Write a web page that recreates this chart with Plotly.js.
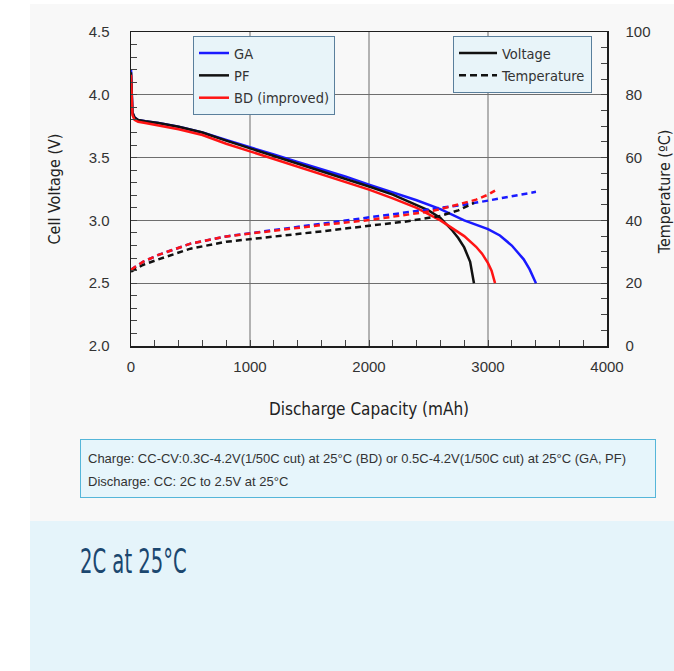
<!DOCTYPE html>
<html>
<head>
<meta charset="utf-8">
<script src="https://cdn.plot.ly/plotly-3.0.1.min.js"></script>
<style>
  html, body { margin:0; padding:0; background:#ffffff; }
  body { width:674px; height:671px; overflow:hidden; position:relative; }
  #gray { position:absolute; left:30px; top:4px; width:644px; height:517px; background:#f8f8f8; }
  #chart { position:absolute; left:0; top:0; width:674px; height:522px; }
  #note { position:absolute; left:80px; top:439px; width:567px; height:50px; box-sizing:content-box;
          border:1px solid #55b6d9; background:#e6f5fb; padding:7px 0 0 7px;
          font-family:'Liberation Sans', Arial, sans-serif; font-size:13px; color:#333; line-height:23px; }
  #note div { white-space:nowrap; }
  #panel { position:absolute; left:30px; top:521px; width:644px; height:150px; background:#e5f4fa; }
  #panelTitle { position:absolute; left:80px; top:545px; margin:0;
          font-family:'DejaVu Sans Condensed', sans-serif;
          font-size:33px; line-height:33px; color:#1b476f; font-weight:normal;
          transform:scaleX(0.66); transform-origin:left top; white-space:nowrap; }
</style>
</head>
<body>
<div id="gray"></div>
<div id="chart"></div>
<div id="note">
  <div id="noteLine1"></div>
  <div id="noteLine2"></div>
</div>
<div id="panel"></div>
<h2 id="panelTitle"></h2>
<script>
// ---------- data ----------
const seriesNames = ['GA', 'PF', 'BD (improved)'];

// Voltage vs. discharge capacity
const capGA = [0, 5, 12, 30, 60, 120, 230, 400, 600, 800, 1000, 1200, 1400, 1600, 1800, 2000, 2200, 2400, 2600, 2800, 3000, 3100, 3200, 3300, 3350, 3403];
const voltGA = [4.20, 4.00, 3.86, 3.82, 3.80, 3.79, 3.775, 3.745, 3.70, 3.64, 3.585, 3.525, 3.465, 3.41, 3.35, 3.285, 3.225, 3.16, 3.09, 3.00, 2.93, 2.88, 2.80, 2.69, 2.61, 2.50];

const capPF = [0, 5, 12, 30, 60, 120, 230, 400, 600, 800, 1000, 1200, 1400, 1600, 1800, 2000, 2200, 2400, 2500, 2600, 2700, 2750, 2800, 2850, 2882];
const voltPF = [4.18, 3.98, 3.86, 3.82, 3.80, 3.79, 3.775, 3.745, 3.70, 3.635, 3.575, 3.515, 3.455, 3.395, 3.335, 3.27, 3.205, 3.125, 3.08, 3.02, 2.92, 2.86, 2.785, 2.67, 2.50];

const capBD = [0, 5, 12, 30, 60, 120, 230, 400, 600, 800, 1000, 1200, 1400, 1600, 1800, 2000, 2200, 2400, 2600, 2700, 2800, 2900, 2950, 3000, 3030, 3059];
const voltBD = [4.16, 3.96, 3.84, 3.80, 3.785, 3.775, 3.756, 3.725, 3.68, 3.61, 3.55, 3.49, 3.43, 3.37, 3.31, 3.245, 3.175, 3.10, 3.00, 2.94, 2.875, 2.79, 2.735, 2.66, 2.60, 2.50];

// Temperature vs. discharge capacity
const tCapGA = [0, 100, 230, 500, 800, 1000, 1300, 1600, 2000, 2300, 2600, 2800, 3000, 3200, 3403];
const tempGA = [24.3, 26.8, 29.0, 32.6, 34.9, 35.9, 37.5, 38.8, 40.8, 42.3, 43.8, 45.0, 46.3, 47.6, 49.1];

const tCapPF = [0, 100, 230, 500, 800, 1000, 1300, 1600, 2000, 2300, 2600, 2750, 2882];
const tempPF = [23.7, 25.8, 27.6, 31.0, 33.2, 34.0, 35.4, 36.5, 38.3, 39.6, 41.4, 43.2, 45.6];

const tCapBD = [0, 100, 230, 500, 800, 1000, 1300, 1600, 2000, 2300, 2500, 2600, 2800, 2900, 3000, 3059];
const tempBD = [24.3, 26.8, 29.0, 32.6, 34.9, 35.8, 37.3, 38.5, 40.1, 41.6, 42.8, 43.6, 45.6, 46.6, 48.2, 49.5];

// Tick labels
const xTickVals = [0, 1000, 2000, 3000, 4000];
const yTickVals = [2.0, 2.5, 3.0, 3.5, 4.0, 4.5];
const y2TickVals = [0, 20, 40, 60, 80, 100];

// Texts
const noteLines = [
  'Charge: CC-CV:0.3C-4.2V(1/50C cut) at 25°C (BD) or 0.5C-4.2V(1/50C cut) at 25°C (GA, PF)',
  'Discharge: CC: 2C to 2.5V at 25°C'
];
const panelTitle = '2C at 25°C';
const y2TitleText = 'Temperature (ºC)';

// ---------- styles ----------
const COLORS = ['#1a1aff', '#111111', '#ff1414'];
const NARROW = "'DejaVu Sans Condensed', sans-serif";
const SANS = "'Liberation Sans', Arial, sans-serif";
const TEMP_DASH = '6px,4px';

const voltCaps = [capGA, capPF, capBD];
const volts = [voltGA, voltPF, voltBD];
const tempCaps = [tCapGA, tCapPF, tCapBD];
const temps = [tempGA, tempPF, tempBD];

const traces = [];
for (let i = 0; i < 3; i++) {
  traces.push({
    type: 'scatter', mode: 'lines', name: seriesNames[i], legendgroup: 'v' + i,
    x: voltCaps[i], y: volts[i], yaxis: 'y', legend: 'legend',
    line: { color: COLORS[i], width: 2.5 }, hoverinfo: 'skip'
  });
}
for (let i = 0; i < 3; i++) {
  traces.push({
    type: 'scatter', mode: 'lines', name: seriesNames[i] + ' temperature', legendgroup: 't' + i,
    x: tempCaps[i], y: temps[i], yaxis: 'y2', showlegend: false,
    line: { color: COLORS[i], width: 2.5, dash: TEMP_DASH }, hoverinfo: 'skip'
  });
}
// legend-only entries for the line-style key
traces.push({ type: 'scatter', mode: 'lines', name: 'Voltage', x: [null], y: [null], legendgroup: 'k0',
  legend: 'legend2', showlegend: true, line: { color: '#111111', width: 2.5 } });
traces.push({ type: 'scatter', mode: 'lines', name: 'Temperature', x: [null], y: [null], legendgroup: 'k1',
  legend: 'legend2', showlegend: true, line: { color: '#111111', width: 2.5, dash: '7px,4px' } });

const legendCommon = {
  bgcolor: '#e8f4f9', bordercolor: '#5a7f9c', borderwidth: 1,
  font: { family: NARROW, size: 14.5, color: '#333333' },
  xanchor: 'left', yanchor: 'top', traceorder: 'grouped', tracegroupgap: 0.5
};

const layout = {
  width: 674, height: 522,
  margin: { l: 131, r: 67, t: 32, b: 176, pad: 0 },
  paper_bgcolor: 'rgba(0,0,0,0)',
  plot_bgcolor: 'rgba(0,0,0,0)',
  showlegend: true,
  xaxis: {
    range: [0, 4000], tickvals: xTickVals, ticktext: xTickVals.map(String),
    showgrid: true, gridcolor: '#b2b2b2', gridwidth: 1.3,
    zeroline: false, showline: true, linecolor: '#1e1e1e', linewidth: 1.5, mirror: true,
    ticks: 'inside', ticklen: 6, tickcolor: '#444', ticklabelstandoff: 6,
    minor: { dtick: 200, ticks: 'inside', ticklen: 6, tickcolor: '#444', showgrid: false },
    tickfont: { family: SANS, size: 15, color: '#333' },
    title: { text: 'Discharge Capacity (mAh)', standoff: 29,
             font: { family: NARROW, size: 17, color: '#222' } }
  },
  yaxis: {
    range: [2, 4.5], tickvals: yTickVals, ticktext: yTickVals.map(v => v.toFixed(1)),
    showgrid: true, gridcolor: '#6e6e6e', gridwidth: 1.3,
    zeroline: false, showline: true, linecolor: '#1e1e1e', linewidth: 1.5, mirror: true,
    ticks: 'inside', ticklen: 6, tickcolor: '#444', ticklabelstandoff: 17,
    minor: { dtick: 0.1, ticks: 'inside', ticklen: 6, tickcolor: '#444', showgrid: false },
    tickfont: { family: SANS, size: 15, color: '#333' },
    title: { text: 'Cell Voltage (V)', standoff: 24,
             font: { family: NARROW, size: 16, color: '#222' } }
  },
  yaxis2: {
    overlaying: 'y', side: 'right', anchor: 'x',
    range: [0, 100], tickvals: y2TickVals, ticktext: y2TickVals.map(String),
    showgrid: false, zeroline: false, showline: true, linecolor: '#1e1e1e', linewidth: 1.5,
    ticks: 'inside', ticklen: 6, tickcolor: '#444', ticklabelstandoff: 14,
    minor: { dtick: 5, ticks: 'inside', ticklen: 6, tickcolor: '#444', showgrid: false },
    tickfont: { family: SANS, size: 15, color: '#333' }
  },
  annotations: [{
    text: y2TitleText, xref: 'paper', yref: 'paper',
    x: 1 + (664 - 607) / 476, y: 0.49, xanchor: 'center', yanchor: 'middle',
    textangle: -90, showarrow: false,
    font: { family: NARROW, size: 16, color: '#222' }
  }],
  legend: Object.assign({}, legendCommon, { x: 0.1303, y: 0.987 }),
  legend2: Object.assign({}, legendCommon, { x: 0.6765, y: 0.987, itemwidth: 38 })
};

Plotly.newPlot('chart', traces, layout, { staticPlot: true, displayModeBar: false });

document.getElementById('noteLine1').textContent = noteLines[0];
document.getElementById('noteLine2').textContent = noteLines[1];
document.getElementById('panelTitle').textContent = panelTitle;
</script>
</body>
</html>
